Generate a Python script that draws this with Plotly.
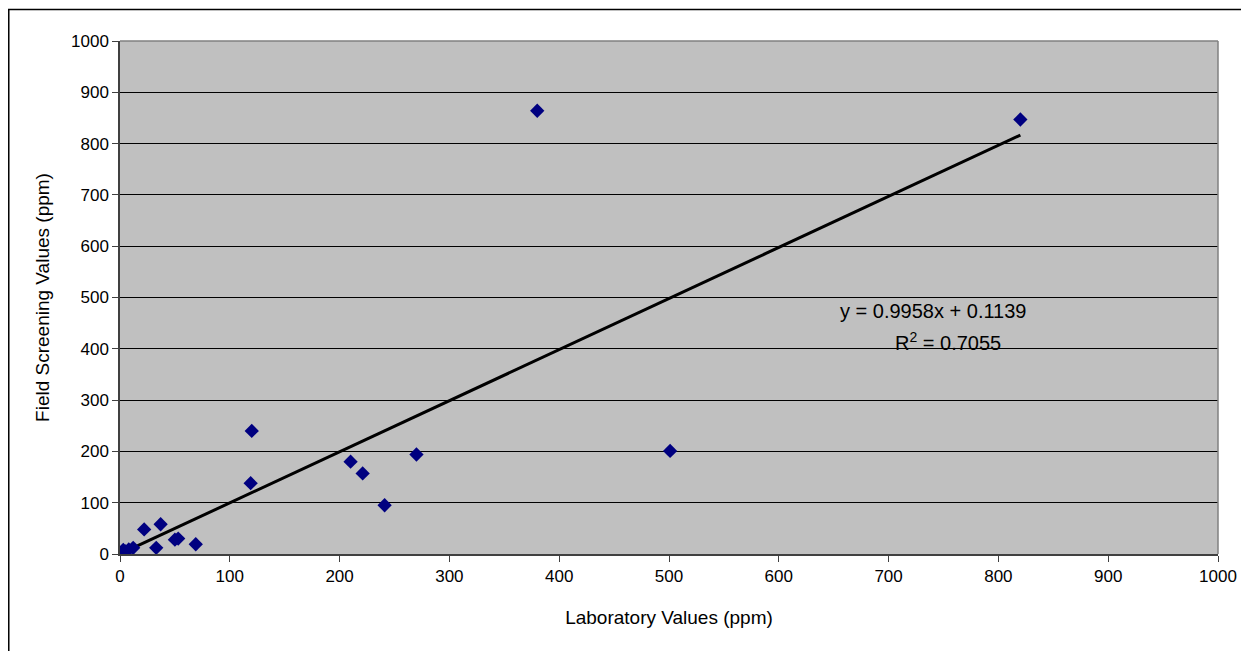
import plotly.graph_objects as go

# Data
lab_values = [0, 1, 3, 5, 8, 12, 22, 33, 37, 50, 53, 69, 119, 120, 210, 221, 241, 270, 380, 501, 820]
field_values = [0, 2, 8, 5, 9, 12, 48, 12, 58, 28, 30, 19, 138, 240, 180, 157, 95, 194, 864, 201, 847]

slope = 0.9958
intercept = 0.1139
r_squared = 0.7055

x_ticks = list(range(0, 1001, 100))
y_ticks = list(range(0, 1001, 100))

FONT = "Liberation Sans, Arial, sans-serif"

x_line = [min(lab_values), max(lab_values)]
y_line = [slope * v + intercept for v in x_line]

fig = go.Figure()
fig.add_trace(go.Scatter(
    x=x_line, y=y_line, mode="lines",
    line=dict(color="black", width=3), showlegend=False, hoverinfo="skip"))
fig.add_trace(go.Scatter(
    x=lab_values, y=field_values, mode="markers",
    marker=dict(symbol="diamond", size=11, color="#000080", line=dict(width=0)),
    showlegend=False))

fig.add_annotation(x=740, y=474, xref="x", yref="y", showarrow=False,
                   text=f"y = {slope:.4f}x + {intercept:.4f}",
                   font=dict(family=FONT, size=20, color="black"))
fig.add_annotation(x=754, y=414, xref="x", yref="y", showarrow=False,
                   text=f"R<sup>2</sup> = {r_squared:.4f}",
                   font=dict(family=FONT, size=20, color="black"))

# Outer chart border
fig.add_shape(type="rect", xref="paper", yref="paper",
              x0=-0.1013, x1=1.2, y0=-0.3, y1=1.0614,
              line=dict(color="black", width=1.5), fillcolor="rgba(0,0,0,0)", layer="below")

fig.update_layout(
    width=1241, height=643,
    margin=dict(l=112, r=31, t=33, b=97),
    paper_bgcolor="white",
    plot_bgcolor="#C0C0C0",
    font=dict(family=FONT, size=17, color="black"),
    xaxis=dict(
        range=[0, 1000], tickvals=x_ticks, ticktext=[str(v) for v in x_ticks],
        showgrid=False, zeroline=False,
        showline=True, linecolor="#404040", linewidth=1.5, mirror=False,
        ticks="outside", ticklen=6, tickcolor="#404040",
        title=dict(text="Laboratory Values (ppm)", font=dict(size=19), standoff=26),
        tickfont=dict(size=17),
    ),
    yaxis=dict(
        range=[0, 1000], tickvals=y_ticks, ticktext=[str(v) for v in y_ticks],
        showgrid=True, gridcolor="black", gridwidth=1, zeroline=False,
        showline=True, linecolor="#404040", linewidth=1.5,
        ticks="outside", ticklen=6, tickcolor="#404040",
        title=dict(text="Field Screening Values (ppm)", font=dict(size=19), standoff=16),
        tickfont=dict(size=17),
    ),
)

# Plot area top/right border (gray)
fig.add_shape(type="line", xref="paper", yref="paper", x0=0, x1=1, y0=1, y1=1,
              line=dict(color="#808080", width=1.5))
fig.add_shape(type="line", xref="paper", yref="paper", x0=1, x1=1, y0=0, y1=1,
              line=dict(color="#808080", width=1.5))

fig.write_html("out.html")
